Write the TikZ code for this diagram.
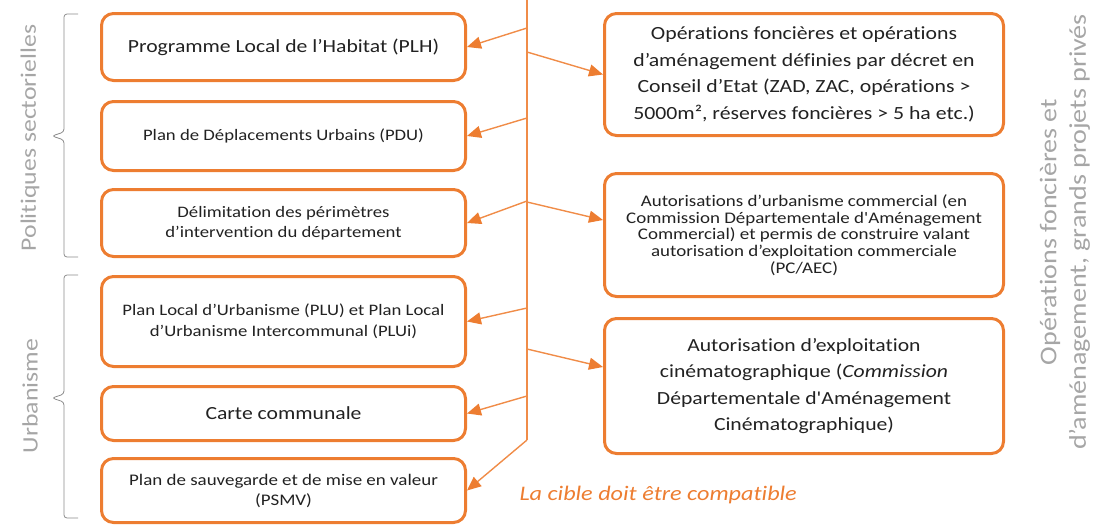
\documentclass[tikz,border=0pt]{standalone}
\usepackage{fontspec}
\setmainfont{Carlito}[FakeStretch=1.17, Ligatures={NoCommon,TeXOff}]
\usetikzlibrary{arrows.meta}
\definecolor{org}{HTML}{ED7D31}
\definecolor{lorg}{HTML}{F08C48}
\definecolor{txt}{HTML}{222222}
\definecolor{lbl}{HTML}{A6A6A6}
\definecolor{brc}{HTML}{8C8C8C}
\tikzset{
  box/.style={draw=org, line width=3pt, rounded corners=12pt, fill=white, text=txt, align=center, inner sep=0pt},
  arr/.style={draw=lorg, line width=1.4pt, -{Triangle[length=14pt,width=12pt,color=org]}},
  spine/.style={draw=lorg, line width=2pt},
  side/.style={text=lbl, font=\fontsize{22}{27}\selectfont, rotate=90, align=center},
  bracel/.style={draw=brc, line width=0.8pt, rounded corners=3pt},
}
\begin{document}
\begin{tikzpicture}[x=1pt,y=-1pt]
\useasboundingbox (0,0) rectangle (1101,528);
% left boxes
\node[box, minimum width=364pt, minimum height=67pt, font=\fontsize{18.5}{22}\selectfont] (b1) at (283.5,47) {Programme Local de l’Habitat (PLH)};
\node[box, minimum width=364pt, minimum height=69pt, font=\fontsize{16}{20}\selectfont] (b2) at (283.5,136) {Plan de Déplacements Urbains (PDU)};
\node[box, minimum width=364pt, minimum height=67pt, font=\fontsize{16}{20}\selectfont] (b3) at (283.5,223) {Délimitation des périmètres\\d’intervention du département};
\node[box, minimum width=364pt, minimum height=90pt, font=\fontsize{16}{21}\selectfont] (b4) at (283.5,321.5) {Plan Local d’Urbanisme (PLU) et Plan Local\\d’Urbanisme Intercommunal (PLUi)};
\node[box, minimum width=364pt, minimum height=54pt, font=\fontsize{18.5}{22}\selectfont] (b5) at (283.5,413.5) {Carte communale};
\node[box, minimum width=364pt, minimum height=64pt, font=\fontsize{16.2}{20}\selectfont] (b6) at (283.5,490.5) {Plan de sauvegarde et de mise en valeur\\(PSMV)};
% right boxes
\node[box, minimum width=399pt, minimum height=122pt, font=\fontsize{18.6}{26.5}\selectfont] (r1) at (804,74.5) {Opérations foncières et opérations\\d’aménagement définies par décret en\\Conseil d’Etat (ZAD, ZAC, opérations >\\5000m², réserves foncières > 5 ha etc.)};
\node[box, minimum width=399pt, minimum height=123pt, font=\fontsize{16.2}{16.8}\selectfont] (r2) at (804,235) {Autorisations d’urbanisme commercial (en\\Commission Départementale d'Aménagement\\Commercial) et permis de construire valant\\autorisation d’exploitation commerciale\\(PC/AEC)};
\node[box, minimum width=399pt, minimum height=135pt, font=\fontsize{18.5}{26.5}\selectfont] (r3) at (804,386) {Autorisation d’exploitation\\cinématographique (\textit{Commission}\\Départementale d'Aménagement\\Cinématographique)};
% spine
\coordinate (top) at (527,0);
\coordinate (bend) at (527,440);
\coordinate (a1) at (527,28);
\coordinate (a2) at (527,118);
\coordinate (a3) at (527,201);
\coordinate (a4) at (527,308);
\coordinate (a5) at (527,396);
\coordinate (c1) at (527,52);
\coordinate (c2) at (527,202);
\coordinate (c3) at (527,349);
\draw[spine] (top) -- (bend);
\draw[arr] (a1) -- (b1.east);
\draw[arr] (a2) -- (b2.east);
\draw[arr] (a3) -- (b3.east);
\draw[arr] (a4) -- (b4.east);
\draw[arr] (a5) -- (b5.east);
\draw[arr] (bend) -- (b6.east);
\draw[arr] (c1) -- (r1.west);
\draw[arr] (c2) -- ([yshift=15pt]r2.west);
\draw[arr] (c3) -- ([yshift=19pt]r3.west);
% label
\node[text=org, font=\fontsize{20.7}{24}\selectfont\itshape, anchor=west] (cible) at (516,495) {La cible doit être compatible};
% side labels
\node[side] (pol) at (30,138) {Politiques sectorielles};
\node[side] (urb) at (30,396) {Urbanisme};
\node[side, font=\fontsize{24}{29.5}\selectfont] (ops) at (1065,232) {Opérations foncières et\\d’aménagement, grands projets privés};
% braces
\draw[bracel] (78,14) -- (64,14) -- (64,132) -- (52,136) -- (64,140) -- (64,257) -- (78,257);
\draw[bracel] (78,275) -- (64,275) -- (64,394) -- (52,398) -- (64,402) -- (64,518) -- (78,518);
\end{tikzpicture}
\end{document}
